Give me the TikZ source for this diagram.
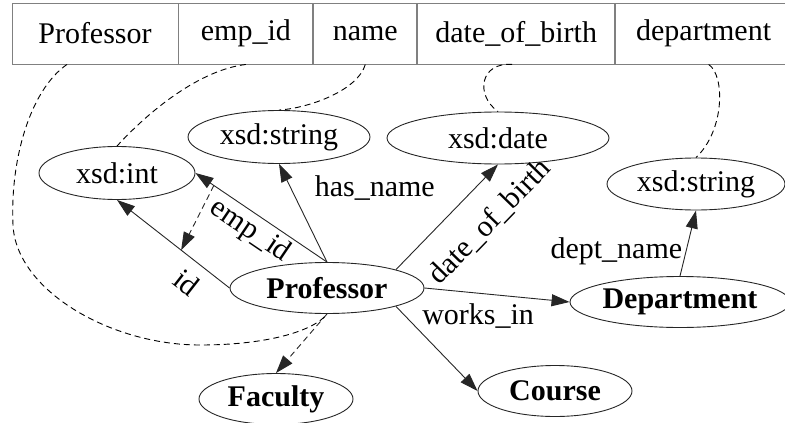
\documentclass[tikz,border=0pt]{standalone}
\usepackage{fontspec}
\setmainfont{Liberation Serif}
\usetikzlibrary{shapes.geometric,arrows.meta,positioning}
\tikzset{
  cell/.style={draw=black!50, rectangle, minimum height=61pt, inner sep=0pt},
  lit/.style={draw=black!85, ellipse, inner sep=0pt},
  cls/.style={lit, font=\fontsize{30}{36}\selectfont\bfseries},
  rel/.style={draw=black!85, -{Triangle[length=18pt,width=12pt]}},
  map/.style={dashed, dash pattern=on 6pt off 4pt}
}
\begin{document}
\begin{tikzpicture}[x=1pt, y=-1pt, node distance=0pt, line width=0.9pt, font=\fontsize{30}{36}\selectfont]
\useasboundingbox (0,0) rectangle (785,423);
\clip (0,0) rectangle (785,423);
\node (TP) [cell, minimum width=166pt] at (95,33.5) {Professor};
\node (TE) [cell, minimum width=134pt, right=of TP] {emp\_id};
\node (TN) [cell, minimum width=103pt, right=of TE] {name};
\node (TD) [cell, minimum width=197pt, right=of TN] {date\_of\_birth};
\node (TDe) [cell, minimum width=176pt, right=of TD] {department};
\node (INT) [lit, minimum width=156pt, minimum height=53pt] at (117,173) {xsd:int};
\node (STR) [lit, minimum width=182pt, minimum height=53pt] at (279,137) {xsd:string};
\node (DATE) [lit, minimum width=222pt, minimum height=52pt] at (498,138) {xsd:date};
\node (STR2) [lit, minimum width=178pt, minimum height=52pt] at (696,184) {xsd:string};
\node (PR) [cls, minimum width=194pt, minimum height=51pt] at (327,288) {Professor};
\node (DEP) [cls, minimum width=220pt, minimum height=51pt] at (680,302) {Department};
\node (CO) [cls, minimum width=154pt, minimum height=51pt] at (555,391) {Course};
\node (FA) [cls, minimum width=154pt, minimum height=51pt] at (276,399) {Faculty};
\draw[rel] (PR.west) -- (INT.south) node[pos=0.26, sloped, below=8pt] {id} coordinate[pos=0.43] (i1);
\draw[rel] (PR.north) -- (INT.east) node[pos=0.51, sloped, below] {emp\_id} coordinate[pos=0.86] (e1);
\draw[rel] (PR.north) -- (STR.south) node[pos=0.75, right=20pt] {has\_name};
\draw[rel] (PR.north east) -- (DATE.south) node[pos=0.68, sloped, below=18pt] {date\_of\_birth};
\draw[rel] (PR.east) -- (DEP.west) node[pos=0.37, below=7pt] {works\_in};
\draw[rel] (PR.south east) -- (CO.west);
\draw[rel] (DEP.north) -- (STR2.south) node[pos=0.37, left] {dept\_name};
\draw[rel, map] (PR.south) -- (FA.north);
\draw[rel, map] (e1) -- (i1);
\draw[map] ([xshift=-28pt]TP.south) .. controls (30,90) and (10,160) .. (13,225) .. controls (16,290) and (110,345) .. (200,345) .. controls (270,345) and (315,330) .. (PR.south);
\draw[map] (TE.south) .. controls (200,70) and (150,110) .. (INT.north);
\draw[map] (TN.south) .. controls (358,90) and (310,108) .. (STR.north);
\draw[map] ([xshift=-4pt]TD.south) .. controls (480,62) and (475,95) .. (DATE.north);
\draw[map] ([xshift=5pt]TDe.south) .. controls (725,75) and (725,130) .. (STR2.north);
\end{tikzpicture}
\end{document}
